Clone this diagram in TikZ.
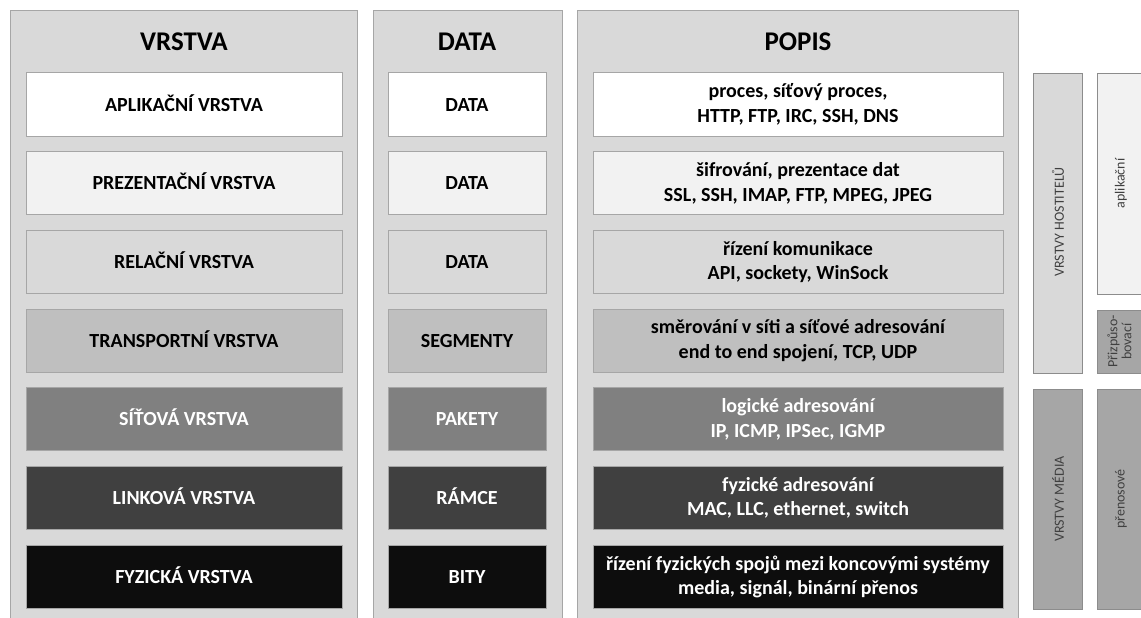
\documentclass[tikz,border=0pt]{standalone}
\usepackage{fontspec}
\setmainfont{Carlito}
\definecolor{bggray}{HTML}{D9D9D9}
\definecolor{edgegray}{HTML}{A6A6A6}
\definecolor{lay1}{HTML}{FFFFFF}
\definecolor{lay2}{HTML}{F2F2F2}
\definecolor{lay3}{HTML}{D9D9D9}
\definecolor{lay4}{HTML}{BFBFBF}
\definecolor{lay5}{HTML}{808080}
\definecolor{lay6}{HTML}{404040}
\definecolor{lay7}{HTML}{0D0D0D}
\definecolor{sidetext}{HTML}{404040}
\definecolor{sidedark}{HTML}{A6A6A6}
\definecolor{sideedge}{HTML}{8C8C8C}
\tikzset{
  colbg/.style={fill=bggray, draw=edgegray, line width=0.8pt},
  title/.style={font=\fontsize{27}{30}\selectfont\bfseries, text=black},
  layer/.style={draw=edgegray, line width=1pt, minimum height=63pt, inner sep=0pt,
     font=\fontsize{20}{24.5}\selectfont\bfseries, align=center},
  c1/.style={layer, minimum width=316pt, text height=13pt, text depth=0pt},
  c2/.style={layer, minimum width=158pt, text height=13pt, text depth=0pt},
  c3/.style={layer, minimum width=410pt},
  sidebox/.style={draw=sideedge, line width=0.8pt},
  side/.style={inner sep=0pt, text=sidetext, rotate=90,
     font=\fontsize{14}{14}\selectfont, align=center},
}
\begin{document}
\begin{tikzpicture}[x=1pt,y=-1pt]
\useasboundingbox (0,0) rectangle (1141,618);
\clip (0,0) rectangle (1141,618);
\fill[white] (0,0) rectangle (1141,618);
% column backgrounds
\draw[colbg] (10,10) rectangle (357,640);
\draw[colbg] (373,10) rectangle (562,640);
\draw[colbg] (577,10) rectangle (1018,640);
% titles
\node[title] (t1) at (184,42) {VRSTVA};
\node[title] (t2) at (467,42) {DATA};
\node[title] (t3) at (798,42) {POPIS};
% rows
\foreach \i/\fc/\tc/\a/\b/\c in {
  0/lay1/black/{APLIKAČNÍ VRSTVA}/{DATA}/{proces, síťový proces,\\HTTP, FTP, IRC, SSH, DNS},
  1/lay2/black/{PREZENTAČNÍ VRSTVA}/{DATA}/{šifrování, prezentace dat\\SSL, SSH, IMAP, FTP, MPEG, JPEG},
  2/lay3/black/{RELAČNÍ VRSTVA}/{DATA}/{řízení komunikace\\API, sockety, WinSock},
  3/lay4/black/{TRANSPORTNÍ VRSTVA}/{SEGMENTY}/{směrování v síti a síťové adresování\\end to end spojení, TCP, UDP},
  4/lay5/white/{SÍŤOVÁ VRSTVA}/{PAKETY}/{logické adresování\\IP, ICMP, IPSec, IGMP},
  5/lay6/white/{LINKOVÁ VRSTVA}/{RÁMCE}/{fyzické adresování\\MAC, LLC, ethernet, switch},
  6/lay7/white/{FYZICKÁ VRSTVA}/{BITY}/{řízení fyzických spojů mezi koncovými systémy\\media, signál, binární přenos}}{
  \node[c1, fill=\fc, text=\tc] (l\i) at (184,104.5+78.7*\i) {\a};
  \node[c2, fill=\fc, text=\tc] (d\i) at (467,104.5+78.7*\i) {\b};
  \node[c3, fill=\fc, text=\tc] (p\i) at (798,104.5+78.7*\i) {\c};
}
% right side groups
\draw[sidebox, fill=bggray] (1033,73) rectangle (1082,373);
\node[side] (hh) at (1058,222) {VRSTVY HOSTITELŮ};
\draw[sidebox, fill=sidedark] (1033,389) rectangle (1082,609);
\node[side] (hm) at (1058,499) {VRSTVY MÉDIA};
\draw[sidebox, fill=lay2] (1097,73) rectangle (1146,294);
\node[side] (sa) at (1121,183.5) {aplikační};
\draw[sidebox, fill=sidedark] (1097,310) rectangle (1146,373);
\node[side] (sp) at (1119.5,341.5) {Přizpůso-\\bovací};
\draw[sidebox, fill=sidedark] (1097,389) rectangle (1146,609);
\node[side] (sn) at (1121,499) {přenosové};
\end{tikzpicture}
\end{document}
